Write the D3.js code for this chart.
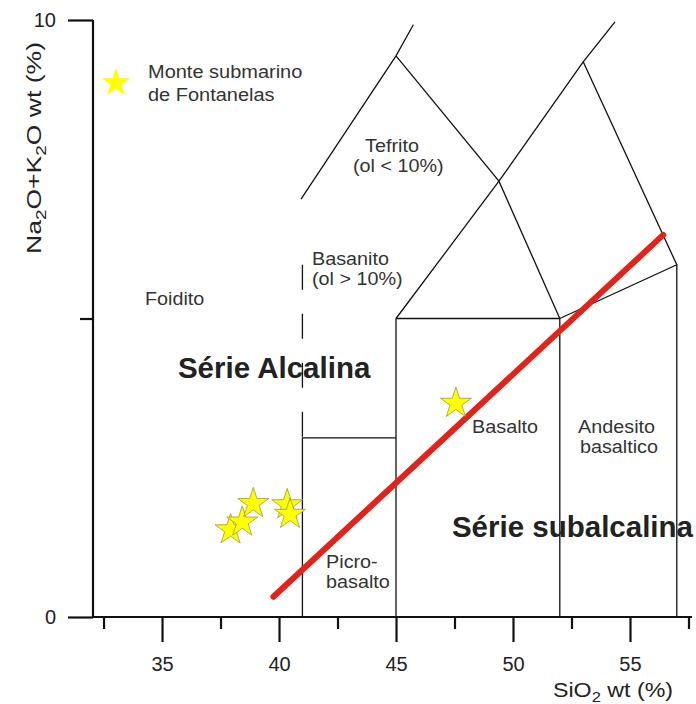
<!DOCTYPE html>
<html><head><meta charset="utf-8">
<script src="https://cdn.jsdelivr.net/npm/d3@7"></script>
<style>body{margin:0;background:#fff} svg{display:block} text{font-family:"Liberation Sans",Arial,sans-serif}</style>
</head><body><svg id="c" width="696" height="704"></svg>
<script>
// ---- data ----
const xMajorTicks = [35, 40, 45, 50, 55];
const xMinorTicks = [32.5, 37.5, 42.5, 47.5, 52.5, 57.5];
const yMajorTicks = [0, 10];
const yMinorTicks = [5];
const sampleSiO2 = [37.93, 38.43, 38.9, 40.35, 40.47, 47.56];
const sampleAlk  = [1.46, 1.59, 1.90, 1.88, 1.72, 3.58];
const dividerSiO2 = [39.76, 56.42];
const dividerAlk  = [0.34, 6.40];
// TAS field boundaries (SiO2, Na2O+K2O)
const tephriteLeft  = [[40.94, 7.0], [45, 9.4], [45.74, 9.92]];
const tephriteRight = [[45, 9.4], [49.4, 7.3], [52, 5]];
const basaltTop     = [[45, 5], [49.4, 7.3], [53, 9.3], [54.36, 9.97]];
const andesiteTop   = [[53, 9.3], [57, 5.9], [52, 5]];
const basaltCap     = [[45, 5], [52, 5]];
const line45        = [[45, 5], [45, 0]];
const line52        = [[52, 5], [52, 0]];
const line57        = [[57, 5.9], [57, 0]];
const picroBox      = [[41, 0], [41, 3], [45, 3]];
const basaniteDash  = [[41, 5.9], [41, 3]];
const fieldLabels = [
  {t:"Foidito", x:34.27, y:5.23},
  {t:"Tefrito", x:43.68, y:7.79},
  {t:"(ol < 10%)", x:43.16, y:7.45},
  {t:"Basanito", x:41.41, y:5.90},
  {t:"(ol > 10%)", x:41.41, y:5.56},
  {t:"Basalto", x:48.25, y:3.08},
  {t:"Andesito", x:52.78, y:3.08},
  {t:"basaltico", x:52.86, y:2.75},
  {t:"Picro-", x:42.01, y:0.82},
  {t:"basalto", x:42.01, y:0.49}
];
const seriesLabels = [
  {t:"Série Alcalina", x:35.68, y:4.00},
  {t:"Série subalcalina", x:47.39, y:1.34}
];
const legendLines = ["Monte submarino", "de Fontanelas"];

// ---- chart ----
const svg = d3.select("#c");
const x = d3.scaleLinear().domain([32.05, 57.65]).range([93, 692]);
const y = d3.scaleLinear().domain([0, 10]).range([617, 20]);
const line = d3.line().x(d => x(d[0])).y(d => y(d[1]));

const g = svg.append("g");
[tephriteLeft, tephriteRight, basaltTop, andesiteTop, basaltCap, line45, line52, line57, picroBox].forEach(p => {
  g.append("path").attr("d", line(p)).attr("fill", "none").attr("stroke", "#111").attr("stroke-width", 1.3);
});
g.append("path").attr("d", line(basaniteDash)).attr("fill", "none").attr("stroke", "#111")
  .attr("stroke-width", 1.3).attr("stroke-dasharray", "25,24");

// labels
fieldLabels.forEach(l => {
  svg.append("text").attr("transform", `translate(${x(l.x)},${y(l.y)}) scale(1.07,1)`)
    .attr("font-size", 18.5).attr("fill", "#333").text(l.t);
});
seriesLabels.forEach(l => {
  svg.append("text").attr("x", x(l.x)).attr("y", y(l.y)).attr("font-size", 29.5)
    .attr("font-weight", "bold").attr("fill", "#222").text(l.t);
});

// divider
svg.append("path").attr("d", line(dividerSiO2.map((v, i) => [v, dividerAlk[i]])))
  .attr("stroke", "#e2231a").attr("stroke-width", 6).attr("stroke-linecap", "round").attr("fill", "none");

// stars
const star = d3.symbol().type(d3.symbolStar).size(298);
svg.selectAll(".s").data(sampleSiO2.map((v, i) => [v, sampleAlk[i]])).join("path")
  .attr("transform", d => `translate(${x(d[0])},${y(d[1])})`)
  .attr("d", star).attr("fill", "#ffff00").attr("stroke", "#9a9a3a").attr("stroke-width", 0.8);

// legend
svg.append("path").attr("transform", "translate(116,83)")
  .attr("d", d3.symbol().type(d3.symbolStar).size(255)).attr("fill", "#ffff00");
legendLines.forEach((t, i) => {
  svg.append("text").attr("transform", `translate(148,${78 + i * 23}) scale(1.08,1)`)
    .attr("font-size", 18.5).attr("fill", "#333").text(t);
});

// axes
const axX = svg.append("g").attr("transform", "translate(0,617)");
axX.call(d3.axisBottom(x).tickValues(xMajorTicks).tickSize(25).tickPadding(15).tickFormat(d3.format("d")));
const axX2 = svg.append("g").attr("transform", "translate(0,617)");
axX2.call(d3.axisBottom(x).tickValues(xMinorTicks).tickSize(12).tickFormat(""));
axX2.select(".domain").remove();
const axY = svg.append("g").attr("transform", "translate(93,0)");
axY.call(d3.axisLeft(y).tickValues(yMajorTicks).tickSize(25).tickPadding(12).tickFormat(d3.format("d")));
const axY2 = svg.append("g").attr("transform", "translate(93,0)");
axY2.call(d3.axisLeft(y).tickValues(yMinorTicks).tickSize(13).tickFormat(""));
axY2.select(".domain").remove();
svg.selectAll(".domain").attr("stroke", "#111").attr("stroke-width", 2.2);
svg.selectAll(".tick line").attr("stroke", "#111").attr("stroke-width", 2.2);
svg.selectAll(".tick text").attr("font-size", 20).attr("fill", "#222")
  .attr("font-family", "'Liberation Sans', Arial, sans-serif");
axY.select(".domain").attr("d", `M0,${y(10)}V${y(0)}`);
axX.select(".domain").attr("d", `M${x.range()[0]},0H${x.range()[1]}`);

// axis titles
const xt = svg.append("text").attr("x", 553).attr("y", 697).attr("font-size", 21).attr("fill", "#222")
  .attr("textLength", 120).attr("lengthAdjust", "spacingAndGlyphs");
xt.append("tspan").text("SiO");
xt.append("tspan").attr("font-size", 15).attr("dy", 5).text("2");
xt.append("tspan").attr("dy", -5).text(" wt (%)");
const yt = svg.append("text").attr("transform", "translate(41,148) rotate(-90)")
  .attr("text-anchor", "middle").attr("font-size", 21).attr("fill", "#222")
  .attr("textLength", 212).attr("lengthAdjust", "spacingAndGlyphs");
yt.append("tspan").text("Na");
yt.append("tspan").attr("font-size", 15).attr("dy", 5).text("2");
yt.append("tspan").attr("dy", -5).text("O+K");
yt.append("tspan").attr("font-size", 15).attr("dy", 5).text("2");
yt.append("tspan").attr("dy", -5).text("O wt (%)");
</script></body></html>
